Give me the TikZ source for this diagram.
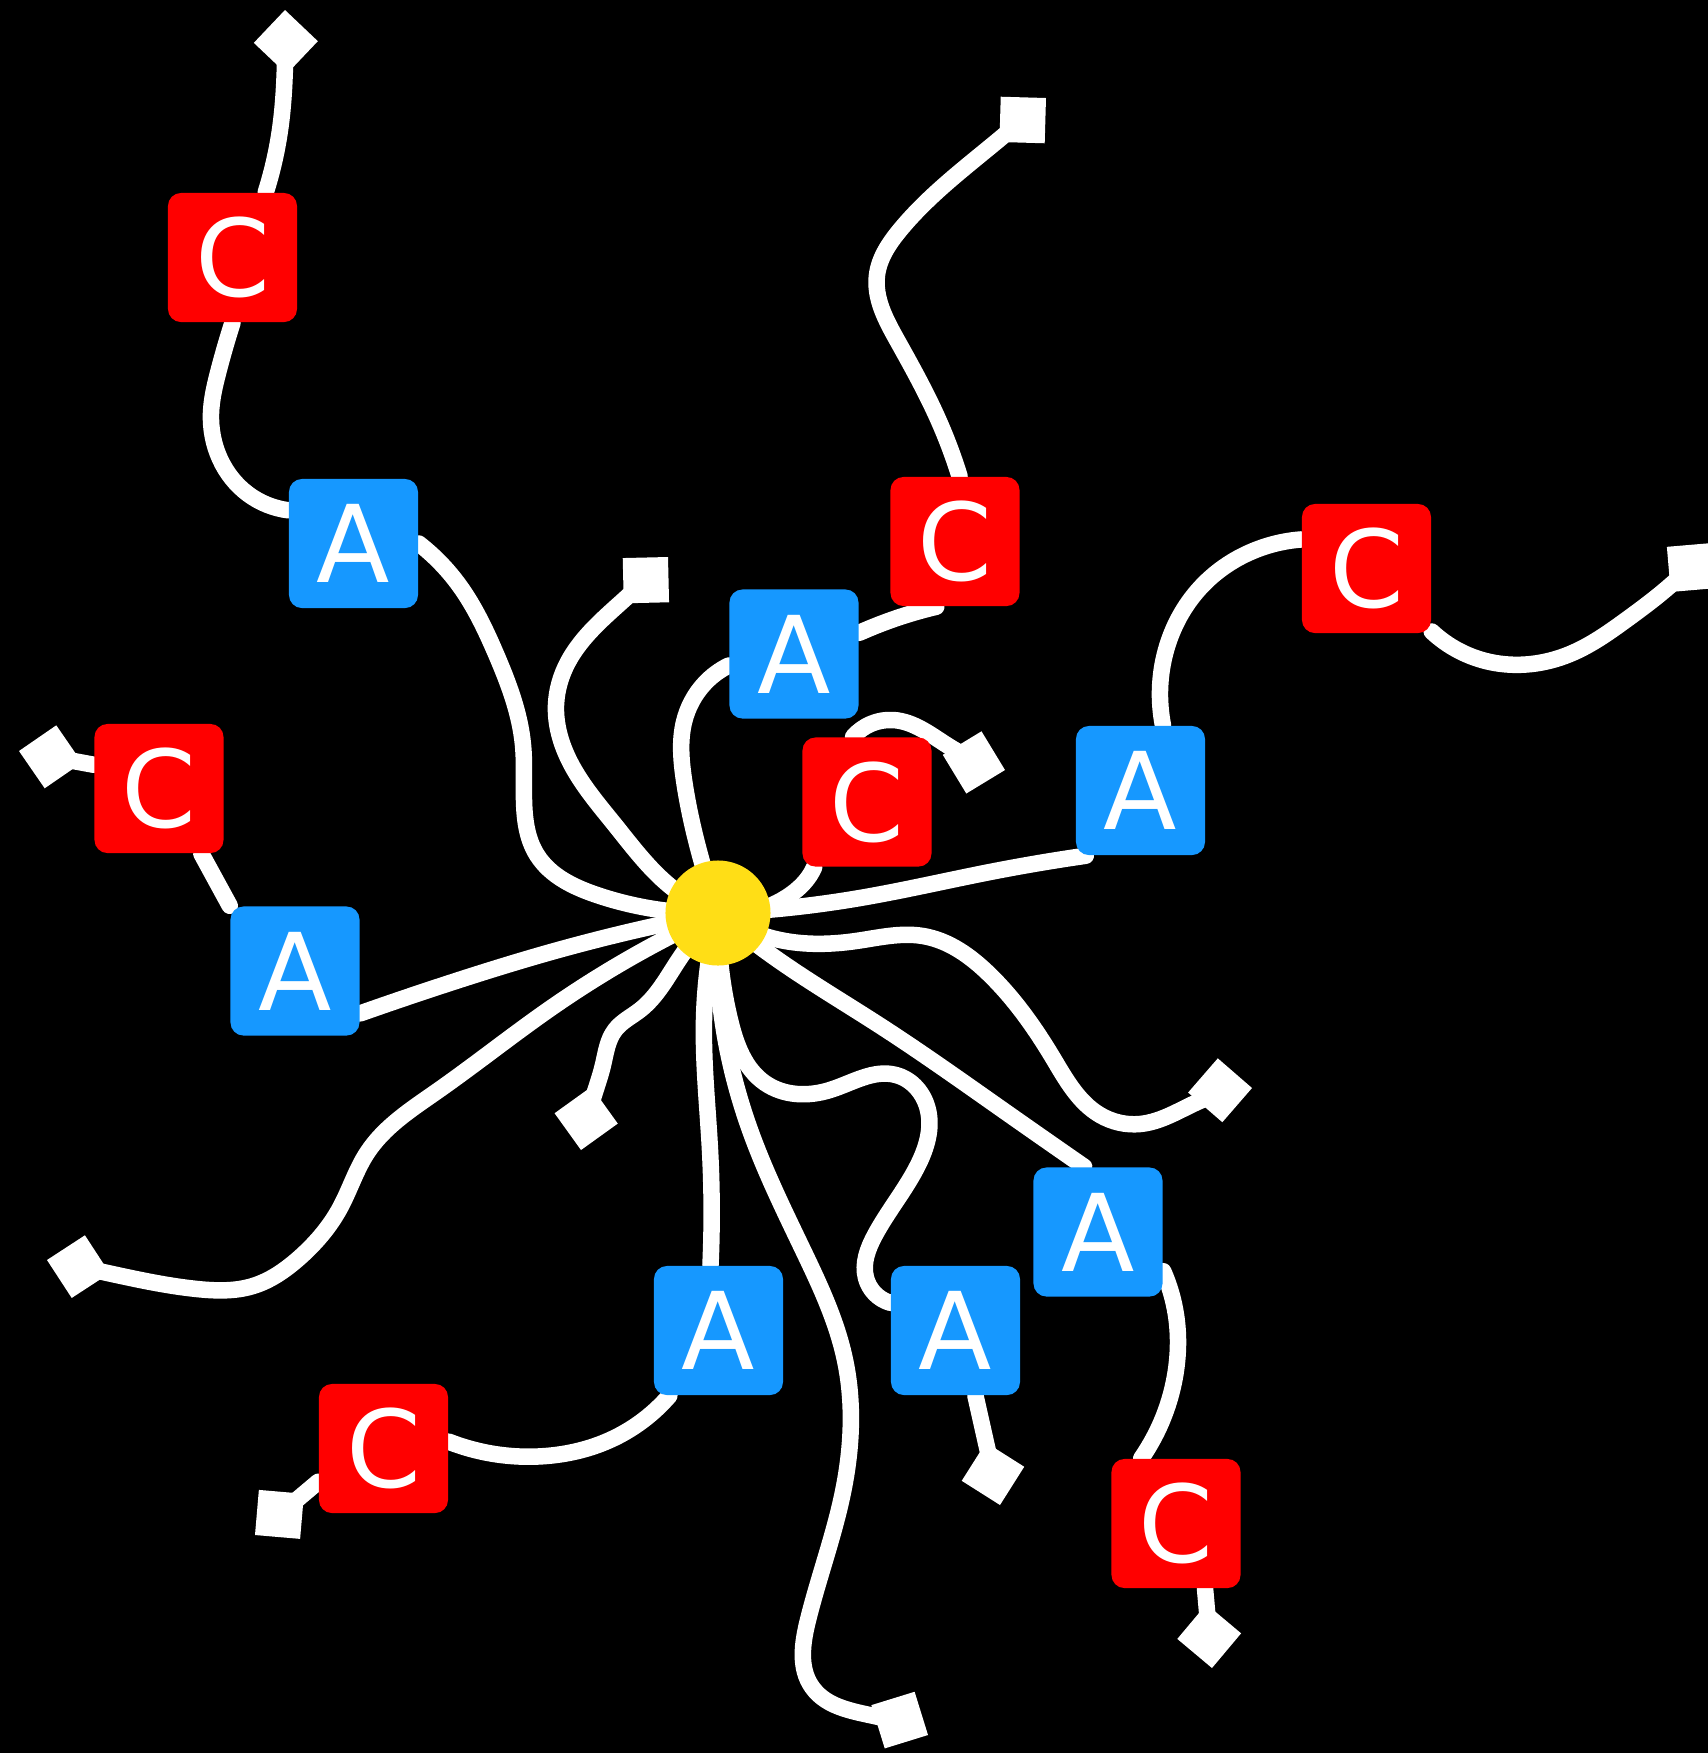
\documentclass[tikz,border=0pt]{standalone}
\usepackage{fontspec}
\setmainfont{DejaVu Sans}
\usetikzlibrary{arrows.meta,hobby}
\pgfdeclarelayer{bg}
\pgfdeclarelayer{wires}
\pgfsetlayers{bg,wires,main}
\definecolor{hubyellow}{RGB}{255,222,22}
\definecolor{tileblue}{RGB}{22,152,255}
\definecolor{tilered}{RGB}{255,0,0}
\tikzset{
  tile/.style={rectangle, rounded corners=0.13cm, minimum size=1.29cm, inner sep=0pt,
    text=white, font=\fontsize{30.5}{32}\selectfont},
  atile/.style={tile, fill=tileblue},
  ctile/.style={tile, fill=tilered},
  hubdot/.style={circle, fill=hubyellow, minimum size=1.05cm, inner sep=0pt},
  wire/.style={white, line width=0.165cm, line cap=round, line join=round, use Hobby shortcut},
  tail/.style={wire, -{Turned Square[length=0.64cm, width=0.64cm, line width=0pt]}},
}
\begin{document}
\begin{tikzpicture}[x=0.01cm, y=-0.01cm]
\useasboundingbox (0,0) rectangle (1708,1753);
\begin{pgfonlayer}{bg}
\fill[black] (0,0) rectangle (1708,1753);
\end{pgfonlayer}

\node[hubdot] (hub) at (718,913) {};
\node[atile] (a1) at (353.5,543.5) {A};
\node[atile] (a2) at (295,971) {A};
\node[atile] (a3) at (794,654) {A};
\node[atile] (a4) at (1140.5,790.5) {A};
\node[atile] (a5) at (1098,1232) {A};
\node[atile] (a6) at (718.5,1330.5) {A};
\node[atile] (a7) at (955.5,1330.5) {A};
\node[ctile] (c1) at (232.5,257.5) {C};
\node[ctile] (c2) at (159,788.5) {C};
\node[ctile] (c3) at (955,541.5) {C};
\node[ctile] (c4) at (867,802) {C};
\node[ctile] (c5) at (1366.5,568.5) {C};
\node[ctile] (c6) at (383.5,1448.5) {C};
\node[ctile] (c7) at (1176,1523.5) {C};

\coordinate (e1) at (285,10);
\coordinate (e2) at (668,557);
\coordinate (e3) at (1046,98);
\coordinate (e4) at (1005,770);
\coordinate (e5) at (1712,543);
\coordinate (e6) at (1252,1088);
\coordinate (e7) at (1212,1668);
\coordinate (e8) at (1000,1505);
\coordinate (e9) at (928,1735);
\coordinate (e10) at (255,1535);
\coordinate (e11) at (581,1150);
\coordinate (e12) at (47,1260);
\coordinate (e13) at (19,751);

\begin{pgfonlayer}{wires}
\draw[wire] (hub.center) .. (597,895) .. (537,855) .. (524,800) .. (523,745) .. (496,654) .. (459,585) .. (a1.east);
\draw[wire] (a1.153) .. (248,494) .. (220,459) .. (211,413) .. (218,373) .. (c1.south);
\draw[tail] (c1.63) .. (280,130) .. (285,64) .. (e1);

\draw[tail] (hub.center) .. (675,890) .. (615,825) .. (570,762) .. (556,705) .. (568,662) .. (627,597) .. (e2);

\draw[wire] (hub.center) .. (700,855) .. (684,780) .. (684,722) .. (705,683) .. (a3.190);
\draw[wire] (a3.18) .. (900,617) .. (c3.-106);
\draw[tail] (c3.86) .. (938,419) .. (897,340) .. (877,275) .. (900,230) .. (1008,132) .. (e3);

\draw[wire] (hub.center) .. (790,895) .. (810,875) .. (c4.-129);
\draw[tail] (c4.102) .. (893,720) .. (950,747) .. (e4);

\draw[wire] (hub.center) .. (860,898) .. (990,872) .. (a4.230);
\draw[wire] (a4.71) .. (1166,650) .. (1200,588) .. (1253,551) .. (c5.156);
\draw[tail] (c5.-44) .. (1490,662) .. (1570,654) .. (1626,620) .. (1665,590) .. (e5);

\draw[tail] (hub.center) .. (780,940) .. (856,941) .. (923,936) .. (990,975) .. (1053,1058) .. (1100,1115) .. (1140,1124) .. (1202,1100) .. (e6);

\draw[wire] (hub.center) .. (767,952) .. (879,1025) .. (1000,1108) .. (a5.102);
\draw[wire] (a5.-31) .. (1176,1315) .. (1176,1370) .. (c7.118);
\draw[tail] (c7.-66) -- (e7);

\draw[wire] (hub.center) .. (730,1020) .. (765,1083) .. (830,1090) .. (896,1075) .. (928,1110) .. (918,1165) .. (875,1235) .. (866,1278) .. (a7.157);
\draw[tail] (a7.-73) -- (e8);

\draw[tail] (hub.center) .. (720,1000) .. (750,1130) .. (803,1250) .. (845,1360) .. (843,1492) .. (808,1620) .. (812,1687) .. (883,1718) .. (e9);

\draw[wire] (hub.center) .. (704,1020) .. (710,1150) .. (a6.97);
\draw[wire] (a6.-127) .. (610,1440) .. (546,1456) .. (c6.6);
\draw[tail] (c6.207) -- (e10);

\draw[tail] (hub.center) .. (680,958) .. (640,1010) .. (615,1030) .. (603,1065) .. (594,1095) .. (e11);

\draw[tail] (hub.center) .. (551,1008) .. (436,1092) .. (367,1153) .. (340,1208) .. (298,1259) .. (253,1286) .. (197,1289) .. (103,1272) .. (e12);

\draw[wire] (hub.center) .. (551,952) .. (459,980) .. (a2.-33);
\draw[wire] (a2.north west) -- (c2.-57);
\draw[tail] (c2.160) -- (e13);
\end{pgfonlayer}
\end{tikzpicture}
\end{document}
